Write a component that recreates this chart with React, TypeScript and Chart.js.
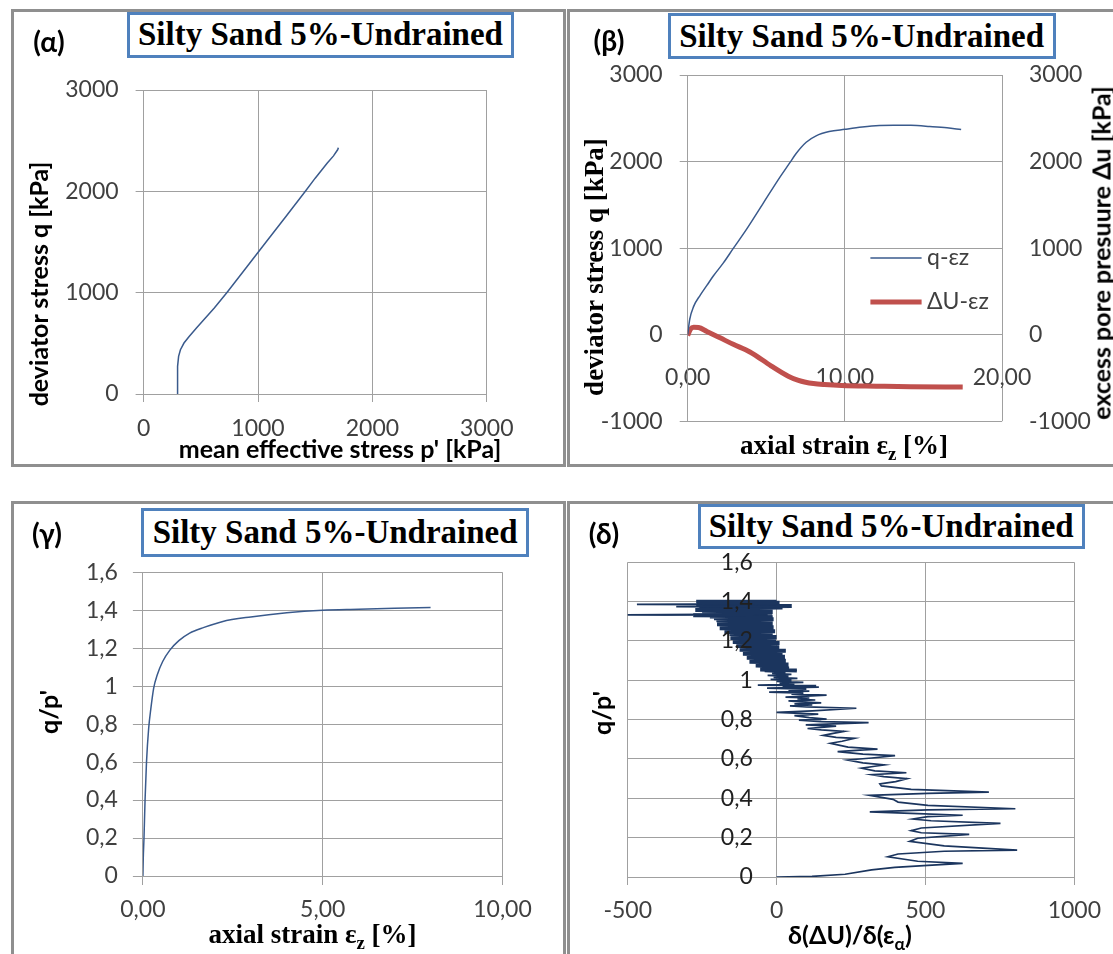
import React, { useEffect, useRef } from 'react';
import { Chart, registerables } from 'chart.js';

Chart.register(...registerables);

// ---------------- data ----------------
// (α) stress path: mean effective stress p' [kPa] vs deviator stress q [kPa]
const alphaP = [297, 297, 297, 306, 322, 353, 400, 462, 540, 618, 727, 905, 1074, 1244, 1414, 1500, 1604, 1660, 1696, 1703, 1697];
const alphaQ = [0, 150, 273, 371, 437, 503, 569, 651, 749, 848, 1000, 1259, 1505, 1752, 2000, 2130, 2277, 2350, 2410, 2430, 2415];

// (β) q - εz and ΔU - εz
const betaStrainQ = [0, 0.13, 0.38, 0.8, 1.22, 1.64, 2.27, 2.9, 3.75, 4.8, 5.85, 6.48, 6.9, 7.54, 8.17, 9.0, 10, 11.1, 12.2, 13.1, 14.2, 15.4, 16.5, 17.4];
const betaQ = [0, 178, 327, 457, 569, 680, 829, 996, 1219, 1517, 1814, 1981, 2093, 2223, 2297, 2346, 2372, 2398, 2416, 2420, 2418, 2405, 2390, 2370];
const betaStrainU = [0, 0.17, 0.38, 0.69, 1.22, 2.06, 2.9, 3.96, 5.3, 6.4, 7.0, 7.5, 8.0, 8.7, 9.8, 12, 14.2, 17.5];
const betaU = [-10, 60, 85, 82, 37, -37, -112, -200, -360, -480, -525, -550, -565, -576, -587, -595, -602, -606];

// (γ) q/p' vs axial strain
const gammaStrain = [0, 0.01, 0.03, 0.06, 0.1, 0.16, 0.22, 0.3, 0.4, 0.55, 0.75, 1.0, 1.3, 1.7, 2.2, 3.0, 4.0, 5.0, 6.0, 7.0, 8.0];
const gammaRatio = [0, 0.093, 0.198, 0.4, 0.6, 0.777, 0.88, 0.99, 1.06, 1.13, 1.19, 1.24, 1.28, 1.31, 1.34, 1.365, 1.387, 1.4, 1.405, 1.41, 1.415];

// (δ) q/p' vs δ(ΔU)/δ(εα)
const deltaRate = [
  0, 119, 230, 319, 397, 508, 625, 474, 374, 408, 563, 808, 563, 447, 474, 647, 486, 452, 486, 752,
  519, 458, 508, 625, 474, 313, 508, 802, 508, 408, 391, 313, 508, 713, 452, 352, 347, 400, 438, 360,
  320, 436, 330, 286, 330, 362, 290, 239, 320, 398, 290, 205, 280, 339, 240, 181, 220, 262, 200, 157,
  190, 227, 150, 104, 160, 200, 98, 309, 150, 75, 168, 110, 60, 140, 0, 120, 268, 100, 45, 120,
  60, 150, 80, 40, 130, 70, 110, 30, 100, 168, 50, 90, -25, 110, 40, 100, -32, 142, 20, 133,
  -63, 60, 10, 90, 0, 50, -20, 70, -10, 40, -30, 50, -15, 30, -40, 68,
  -55, 42, -45, 30, -70, 40, -60, 25, -91, 31,
  -80, 15, -100, 28, -95, 10, -113, 20, -105, 31,
  -124, 0, -115, 9, -135, -5, -125, 10, -147, -2,
  -140, -15, -155, 0, -145, -13, -158, -20, -175, -5,
  -165, -19, -191, -10, -180, -25, -200, -13, -185, -20,
  -202, -10, -210, -13, -224,
  -30, -280, -510, -250, -15, -235, -13, -250, -30, -273,
  -13, -245, 20, -260, -337, -20, 51, -265, -5, -469,
  -270, -2, -265, 10, -270, -5, -260, 0, -270,
];
const deltaRatio = [
  0, 0.003, 0.014, 0.036, 0.049, 0.059, 0.069, 0.08, 0.103, 0.117, 0.131, 0.137, 0.158, 0.181, 0.197, 0.217, 0.225, 0.236, 0.249, 0.273,
  0.286, 0.295, 0.307, 0.314, 0.322, 0.331, 0.341, 0.347, 0.364, 0.381, 0.395, 0.415, 0.425, 0.432, 0.446, 0.463, 0.473, 0.485, 0.5, 0.51,
  0.52, 0.53, 0.54, 0.553, 0.563, 0.57, 0.58, 0.595, 0.605, 0.617, 0.625, 0.637, 0.645, 0.65, 0.66, 0.68, 0.69, 0.705, 0.71, 0.72,
  0.73, 0.74, 0.748, 0.755, 0.762, 0.767, 0.773, 0.785, 0.79, 0.798, 0.803, 0.81, 0.82, 0.828, 0.837, 0.845, 0.858, 0.865, 0.87, 0.875,
  0.88, 0.885, 0.89, 0.895, 0.9, 0.905, 0.91, 0.915, 0.92, 0.925, 0.93, 0.935, 0.94, 0.945, 0.95, 0.955, 0.96, 0.965, 0.97, 0.973,
  0.976, 0.98, 0.985, 0.99, 0.995, 1.0, 1.005, 1.01, 1.015, 1.02, 1.025, 1.03, 1.035, 1.04, 1.045, 1.05,
  1.055, 1.06, 1.065, 1.07, 1.075, 1.08, 1.085, 1.09, 1.095, 1.1,
  1.105, 1.11, 1.115, 1.12, 1.125, 1.13, 1.135, 1.14, 1.145, 1.15,
  1.155, 1.16, 1.165, 1.17, 1.175, 1.18, 1.185, 1.19, 1.195, 1.2,
  1.205, 1.21, 1.215, 1.22, 1.225, 1.23, 1.235, 1.24, 1.245, 1.25,
  1.255, 1.26, 1.265, 1.27, 1.275, 1.28, 1.285, 1.29, 1.295, 1.3,
  1.305, 1.31, 1.315, 1.32, 1.325,
  1.328, 1.331, 1.333, 1.335, 1.338, 1.342, 1.346, 1.35, 1.354, 1.358,
  1.362, 1.366, 1.37, 1.373, 1.375, 1.377, 1.378, 1.381, 1.384, 1.386,
  1.388, 1.39, 1.392, 1.394, 1.396, 1.398, 1.399, 1.4, 1.4,
];

// axis ranges / ticks
const stressTicks = { min: 0, max: 3000, step: 1000 };
const betaYTicks = { min: -1000, max: 3000, step: 1000 };
const betaXTicks = { min: 0, max: 20, step: 10 };
const gammaXTicks = { min: 0, max: 10, step: 5 };
const ratioTicks = { min: 0, max: 1.6, step: 0.2 };
const deltaXTicks = { min: -500, max: 1000, step: 500 };

const panelTitle = 'Silty Sand 5%-Undrained';

// ---------------- styling ----------------
const SANS = 'Lato, "Noto Sans", "DejaVu Sans", sans-serif';
const SERIF = '"Liberation Serif", "DejaVu Serif", serif';
const LINE_BLUE = '#3A5A8C';
const DENSE_BLUE = '#1B355E';
const RED = '#C0504D';
const GRID = '#A0A0A0';
const TICK_TEXT = '#404040';
const TICK_FONT = { family: SANS, size: 23 };
const DENSE_FROM = 1.05; // q/p' level above which the δ trace is drawn as a dense band

const fmtInt = (v: any) => String(v);
const fmtDec1 = (v: any) => String(Math.round(Number(v) * 10) / 10).replace('.', ',');
const fmtDec2 = (v: any) => Number(v).toFixed(2).replace('.', ',');

const pts = (xs: number[], ys: number[]) => xs.map((x, i) => ({ x, y: ys[i] }));

type Rect = { x: number; y: number; w: number; h: number };
type Area = { l: number; t: number; r: number; b: number };

const inlineLegend = {
  id: 'inlineLegend',
  afterDraw(chart: any, _args: any, opts: any) {
    if (!opts || !opts.items) return;
    const ctx = chart.ctx;
    ctx.save();
    chart.data.datasets.forEach((ds: any, i: number) => {
      const it = opts.items[i];
      if (!it) return;
      ctx.strokeStyle = ds.borderColor;
      ctx.lineWidth = ds.borderWidth;
      ctx.lineCap = 'butt';
      ctx.beginPath();
      ctx.moveTo(it.x1, it.y);
      ctx.lineTo(it.x2, it.y);
      ctx.stroke();
      ctx.fillStyle = TICK_TEXT;
      ctx.font = `${opts.size}px ${SANS}`;
      ctx.textBaseline = 'middle';
      ctx.textAlign = 'left';
      ctx.fillText(ds.label, it.tx, it.y);
    });
    ctx.restore();
  },
};

function baseOptions(c: Rect, a: Area, padLeft: number) {
  return {
    animation: false,
    responsive: false,
    maintainAspectRatio: false,
    devicePixelRatio: 1,
    layout: {
      padding: { left: padLeft, top: a.t - c.y, right: 0, bottom: 0 },
    },
    plugins: { legend: { display: false }, tooltip: { enabled: false } },
  } as any;
}

// ---------------- panel geometry ----------------
const alphaCanvas: Rect = { x: 14, y: 12, w: 545, h: 450 };
const alphaArea: Area = { l: 143.6, t: 90, r: 486.8, b: 394 };
const betaCanvas: Rect = { x: 570, y: 12, w: 543, h: 450 };
const betaArea: Area = { l: 687.7, t: 75, r: 1002, b: 432.7 };
const gammaCanvas: Rect = { x: 14, y: 504, w: 549, h: 450 };
const gammaArea: Area = { l: 142.9, t: 572.3, r: 502.5, b: 876 };
const deltaCanvas: Rect = { x: 570, y: 504, w: 543, h: 450 };
const deltaArea: Area = { l: 627.7, t: 562.3, r: 1077.5, b: 877 };

function alphaConfig() {
  const c = alphaCanvas, a = alphaArea;
  const o = baseOptions(c, a, 0);
  o.layout.padding.right = c.x + c.w - a.r;
  o.scales = {
    x: {
      type: 'linear', min: stressTicks.min, max: stressTicks.max,
      ticks: { stepSize: stressTicks.step, callback: fmtInt, font: TICK_FONT, color: TICK_TEXT, padding: 13, maxRotation: 0 },
      grid: { color: GRID, tickLength: 8 }, border: { color: GRID },
      afterFit: (s: any) => { s.height = c.y + c.h - a.b; },
    },
    y: {
      type: 'linear', min: stressTicks.min, max: stressTicks.max,
      ticks: { stepSize: stressTicks.step, callback: fmtInt, font: TICK_FONT, color: TICK_TEXT, padding: 17 },
      grid: { color: GRID, tickLength: 8 }, border: { color: GRID },
      afterFit: (s: any) => { s.width = a.l - c.x; },
    },
  };
  return {
    type: 'scatter',
    data: {
      datasets: [{ label: 'p-q', data: pts(alphaP, alphaQ), showLine: true, borderColor: LINE_BLUE, borderWidth: 1.5, pointRadius: 0 }],
    },
    options: o,
  } as any;
}

function betaConfig() {
  const c = betaCanvas, a = betaArea;
  const o = baseOptions(c, a, 0);
  o.layout.padding.bottom = c.y + c.h - a.b;
  o.scales = {
    x: {
      type: 'linear', position: { y: 0 }, min: betaXTicks.min, max: betaXTicks.max,
      ticks: { stepSize: betaXTicks.step, callback: fmtDec2, font: TICK_FONT, color: TICK_TEXT, padding: 29, maxRotation: 0 },
      grid: { color: GRID, drawTicks: false }, border: { color: GRID },
    },
    y: {
      type: 'linear', position: 'left', min: betaYTicks.min, max: betaYTicks.max,
      ticks: { stepSize: betaYTicks.step, callback: fmtInt, font: TICK_FONT, color: TICK_TEXT, padding: 17 },
      grid: { color: GRID, tickLength: 8 }, border: { color: GRID },
      afterFit: (s: any) => { s.width = a.l - c.x; },
    },
    y2: {
      type: 'linear', position: 'right', min: betaYTicks.min, max: betaYTicks.max,
      ticks: { stepSize: betaYTicks.step, callback: fmtInt, font: TICK_FONT, color: TICK_TEXT, padding: 27 },
      grid: { display: false, drawTicks: false }, border: { display: false },
      afterFit: (s: any) => { s.width = c.x + c.w - a.r; },
    },
  };
  o.plugins.inlineLegend = {
    size: 23,
    items: [
      { x1: 870.4 - c.x, x2: 921.6 - c.x, tx: 927 - c.x, y: 258 - c.y },
      { x1: 870.4 - c.x, x2: 921.6 - c.x, tx: 927 - c.x, y: 302 - c.y },
    ],
  };
  return {
    type: 'scatter',
    data: {
      datasets: [
        { label: 'q-εz', data: pts(betaStrainQ, betaQ), showLine: true, borderColor: LINE_BLUE, borderWidth: 1.5, pointRadius: 0, yAxisID: 'y', cubicInterpolationMode: 'monotone' },
        { label: 'ΔU-εz', data: pts(betaStrainU, betaU), showLine: true, borderColor: RED, borderWidth: 5, pointRadius: 0, yAxisID: 'y2', cubicInterpolationMode: 'monotone' },
      ],
    },
    options: o,
    plugins: [inlineLegend],
  } as any;
}

function gammaConfig() {
  const c = gammaCanvas, a = gammaArea;
  const o = baseOptions(c, a, 0);
  o.layout.padding.right = c.x + c.w - a.r;
  o.scales = {
    x: {
      type: 'linear', min: gammaXTicks.min, max: gammaXTicks.max,
      ticks: { stepSize: gammaXTicks.step, callback: fmtDec2, font: TICK_FONT, color: TICK_TEXT, padding: 11, maxRotation: 0 },
      grid: { color: GRID, tickLength: 9 }, border: { color: GRID },
      afterFit: (s: any) => { s.height = c.y + c.h - a.b; },
    },
    y: {
      type: 'linear', min: ratioTicks.min, max: ratioTicks.max,
      ticks: { stepSize: ratioTicks.step, callback: fmtDec1, font: TICK_FONT, color: TICK_TEXT, padding: 15 },
      grid: { color: GRID, tickLength: 10 }, border: { color: GRID },
      afterFit: (s: any) => { s.width = a.l - c.x; },
    },
  };
  return {
    type: 'scatter',
    data: {
      datasets: [{ label: 'q/p-εz', data: pts(gammaStrain, gammaRatio), showLine: true, borderColor: LINE_BLUE, borderWidth: 1.5, pointRadius: 0, cubicInterpolationMode: 'monotone' }],
    },
    options: o,
  } as any;
}

function deltaConfig() {
  const c = deltaCanvas, a = deltaArea;
  const o = baseOptions(c, a, a.l - c.x);
  o.layout.padding.right = c.x + c.w - a.r;
  o.scales = {
    x: {
      type: 'linear', min: deltaXTicks.min, max: deltaXTicks.max,
      ticks: { stepSize: deltaXTicks.step, callback: fmtInt, font: TICK_FONT, color: TICK_TEXT, padding: 12, maxRotation: 0 },
      grid: { color: GRID, tickLength: 8 }, border: { color: GRID },
      afterFit: (s: any) => { s.height = c.y + c.h - a.b; },
    },
    y: {
      type: 'linear', position: { x: -80 }, min: ratioTicks.min, max: ratioTicks.max,
      ticks: { stepSize: ratioTicks.step, callback: fmtDec1, font: TICK_FONT, color: '#202020', padding: 0, z: 1 },
      grid: { color: GRID, drawTicks: false }, border: { display: false },
    },
  };
  return {
    type: 'scatter',
    data: {
      datasets: [{
        label: 'q/p-dU', data: pts(deltaRate, deltaRatio), showLine: true, borderColor: DENSE_BLUE, borderWidth: 1.7, pointRadius: 0,
        segment: {
          borderWidth: (ctx: any) => (ctx.p0.parsed.y >= DENSE_FROM && ctx.p1.parsed.y >= DENSE_FROM && Math.abs(ctx.p1.parsed.x) < 300 && Math.abs(ctx.p0.parsed.x) < 300 ? 4 : 1.7),
        },
      }],
    },
    options: o,
  } as any;
}

// ---------------- components ----------------
function ChartCanvas({ rect, make }: { rect: Rect; make: () => any }) {
  const ref = useRef<HTMLCanvasElement>(null);
  useEffect(() => {
    const chart = new Chart(ref.current as HTMLCanvasElement, make());
    return () => chart.destroy();
  }, []);
  return (
    <canvas
      ref={ref}
      width={rect.w}
      height={rect.h}
      style={{ position: 'absolute', left: rect.x, top: rect.y, width: rect.w, height: rect.h }}
    />
  );
}

function Txt({ x, y, rot = 0, font, children, color = '#000' }: any) {
  return (
    <div
      style={{
        position: 'absolute', left: x, top: y, font, color, whiteSpace: 'nowrap', lineHeight: 1,
        transform: `translate(-50%, -50%) rotate(${rot}deg)`,
      }}
    >
      {children}
    </div>
  );
}

function Frame({ l, t, r, b }: Area) {
  return (
    <div style={{ position: 'absolute', left: l, top: t, width: r - l, height: b - t, border: '3px solid #8F8F8F', boxSizing: 'border-box' }} />
  );
}

function TitleBox({ l, t, r, b }: Area) {
  return (
    <div
      style={{
        position: 'absolute', left: l, top: t, width: r - l, height: b - t, border: '3px solid #4F81BD', boxSizing: 'border-box',
        background: '#fff', display: 'flex', alignItems: 'center', justifyContent: 'center',
        font: `bold 33px ${SERIF}`, color: '#000', whiteSpace: 'nowrap',
      }}
    >
      {panelTitle}
    </div>
  );
}

const SANS_B = `bold 25px ${SANS}`;
const SERIF_B = `bold 27px ${SERIF}`;
const LABEL_B = `bold 28px ${SANS}`;
const SUB = { fontSize: '0.7em' };

export default function App() {
  return (
    <div style={{ position: 'absolute', left: 0, top: 0, width: 1113, height: 954, overflow: 'hidden', background: '#fff' }}>
      <Frame l={11} t={9} r={566} b={467} />
      <Frame l={567} t={9} r={1125} b={467} />
      <Frame l={11} t={501} r={566} b={970} />
      <Frame l={567} t={501} r={1125} b={970} />

      <ChartCanvas rect={alphaCanvas} make={alphaConfig} />
      <ChartCanvas rect={betaCanvas} make={betaConfig} />
      <ChartCanvas rect={gammaCanvas} make={gammaConfig} />
      <ChartCanvas rect={deltaCanvas} make={deltaConfig} />

      <TitleBox l={126.7} t={11.7} r={514.3} b={57.7} />
      <TitleBox l={667.6} t={13} r={1055.6} b={59} />
      <TitleBox l={141} t={508.3} r={529.3} b={556.7} />
      <TitleBox l={697.6} t={504.3} r={1084.9} b={549} />

      <Txt x={49} y={40.5} font={LABEL_B}>(α)</Txt>
      <Txt x={609} y={40} font={LABEL_B}>(β)</Txt>
      <Txt x={47} y={533} font={LABEL_B}>(γ)</Txt>
      <Txt x={604} y={533} font={LABEL_B}>(δ)</Txt>

      <Txt x={340} y={448} font={SANS_B}>mean effective stress p' [kPa]</Txt>
      <Txt x={37.5} y={284} rot={-90} font={SANS_B}>deviator stress q [kPa]</Txt>

      <Txt x={844} y={448} font={SERIF_B}>axial strain ε<sub style={SUB}>z</sub> [%]</Txt>
      <Txt x={593.5} y={267} rot={-90} font={SERIF_B}>deviator stress q [kPa]</Txt>
      <Txt x={1101.4} y={253} rot={-90} font={SANS_B}>excess pore presuure Δu [kPa]</Txt>

      <Txt x={312.5} y={937} font={SERIF_B}>axial strain ε<sub style={SUB}>z</sub> [%]</Txt>
      <Txt x={48} y={712} rot={-90} font={SANS_B}>q/p'</Txt>

      <Txt x={850} y={937} font={SANS_B}>δ(ΔU)/δ(ε<sub style={SUB}>α</sub>)</Txt>
      <Txt x={601} y={713} rot={-90} font={SANS_B}>q/p'</Txt>
    </div>
  );
}
